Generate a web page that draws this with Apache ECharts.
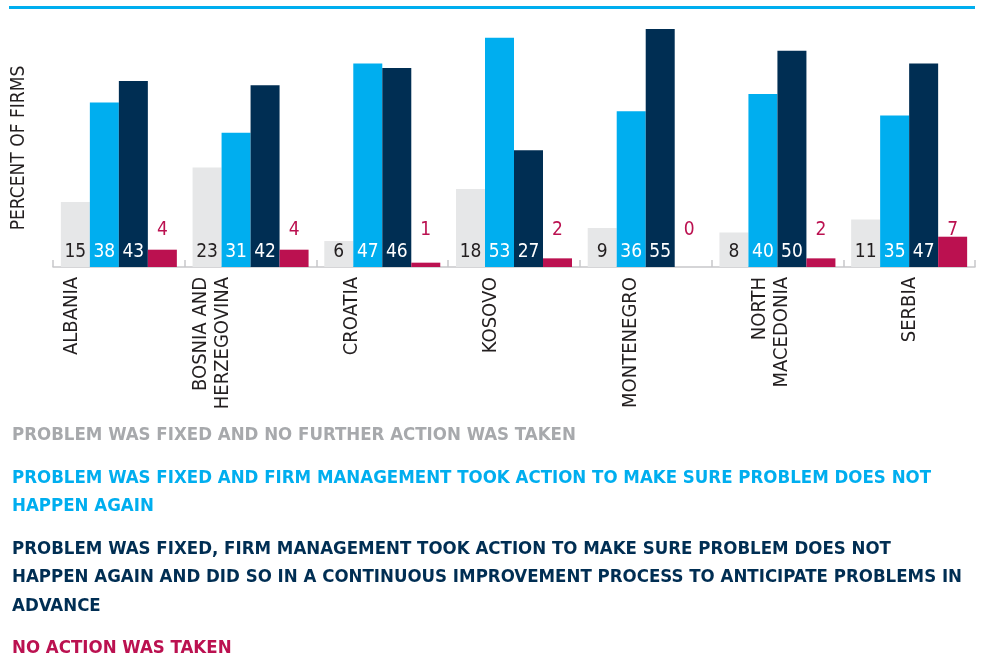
<!DOCTYPE html>
<html>
<head>
<meta charset="utf-8">
<script src="https://cdn.jsdelivr.net/npm/echarts@6/dist/echarts.min.js"></script>
<style>
  html, body { margin: 0; padding: 0; background: #fff; }
  #myid { width: 981px; height: 660px; }
</style>
</head>
<body>
<div id="myid"></div>
<script>
const countries = ["ALBANIA", "BOSNIA AND\nHERZEGOVINA", "CROATIA", "KOSOVO", "MONTENEGRO", "NORTH\nMACEDONIA", "SERBIA"];
const fixedOnly = [15, 23, 6, 18, 9, 8, 11];
const fixedAndAction = [38, 31, 47, 53, 36, 40, 35];
const continuous = [43, 42, 46, 27, 55, 50, 47];
const noAction = [4, 4, 1, 2, 0, 2, 7];

const names = [
  "PROBLEM WAS FIXED AND NO FURTHER ACTION WAS TAKEN",
  "PROBLEM WAS FIXED AND FIRM MANAGEMENT TOOK ACTION TO MAKE SURE PROBLEM DOES NOT\nHAPPEN AGAIN",
  "PROBLEM WAS FIXED, FIRM MANAGEMENT TOOK ACTION TO MAKE SURE PROBLEM DOES NOT\nHAPPEN AGAIN AND DID SO IN A CONTINUOUS IMPROVEMENT PROCESS TO ANTICIPATE PROBLEMS IN\nADVANCE",
  "NO ACTION WAS TAKEN"
];
const colors = ["#e6e7e8", "#00aeef", "#002e53", "#bb1150"];
const legendColors = ["#a7a9ac", "#00aeef", "#002e53", "#bb1150"];

const narrow = '"Liberation Sans Narrow", "DejaVu Sans Condensed", "Roboto Condensed", sans-serif';

let chart = echarts.init(document.getElementById("myid"));

function barSeries(i, data, labelColor, dist) {
  return {
    name: names[i],
    type: "bar",
    data: data,
    barWidth: 29,
    barGap: "0%",
    itemStyle: { color: colors[i] },
    label: {
      show: true,
      position: "insideBottom",
      distance: dist,
      color: labelColor,
      fontFamily: narrow,
      fontSize: 19
    }
  };
}

chart.setOption({
  animation: false,
  // 两个 grid：一个放柱子，一个只用来摆国家标签
  grid: [
    { left: 53, right: 6, top: 29, bottom: 393, outerBoundsMode: "none", containLabel: false },
    { left: 72, right: 71, top: 29, bottom: 393, outerBoundsMode: "none", containLabel: false }
  ],
  legend: {
    orient: "vertical",
    left: 2,
    top: 416,
    height: 400,
    icon: "none",
    itemWidth: 0,
    itemHeight: 0,
    itemGap: 14,
    selectedMode: false,
    data: names.map((n, i) => ({
      name: n,
      textStyle: { color: legendColors[i] }
    })),
    textStyle: {
      fontFamily: narrow,
      fontWeight: "bold",
      fontSize: 18.5,
      lineHeight: 28.5
    }
  },
  xAxis: [
    {
      type: "category",
      gridIndex: 0,
      data: countries,
      axisLine: { lineStyle: { color: "#c8c8ca", width: 1.5 } },
      axisTick: { show: true, inside: true, length: 7, lineStyle: { color: "#c8c8ca", width: 1.5 } },
      axisLabel: { show: false }
    },
    {
      type: "category",
      gridIndex: 1,
      data: countries,
      boundaryGap: false,
      axisLine: { show: false },
      axisTick: { show: false },
      axisLabel: {
        interval: 0,
        rotate: 90,
        margin: 10,
        color: "#231f20",
        fontFamily: narrow,
        fontSize: 20,
        lineHeight: 22
      }
    }
  ],
  yAxis: [
    {
      type: "value",
      gridIndex: 0,
      min: 0,
      max: 55,
      name: "PERCENT OF FIRMS",
      nameLocation: "middle",
      nameRotate: 90,
      nameGap: 24,
      nameTextStyle: { color: "#231f20", fontFamily: narrow, fontSize: 19 },
      axisLine: { show: false },
      axisTick: { show: false },
      axisLabel: { show: false },
      splitLine: { show: false }
    },
    { type: "value", gridIndex: 1, show: false }
  ],
  // 顶部蓝线
  graphic: [
    {
      type: "rect",
      shape: { x: 9, y: 6, width: 966, height: 3 },
      style: { fill: "#00aeef" }
    }
  ],
  series: [
    barSeries(0, fixedOnly, "#231f20", 5),
    barSeries(1, fixedAndAction, "#ffffff", 5),
    barSeries(2, continuous, "#ffffff", 5),
    barSeries(3, noAction, "#bb1150", 27)
  ]
});
</script>
</body>
</html>
